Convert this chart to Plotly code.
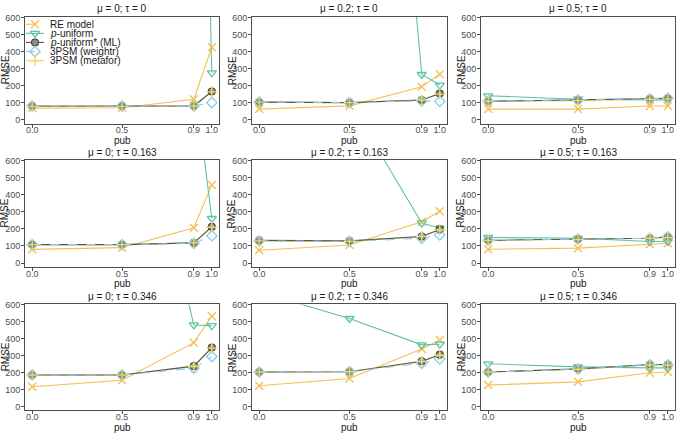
import plotly.graph_objects as go

pub = [0.0, 0.5, 0.9, 1.0]
pub_labels = ["0.0", "0.5", "0.9", "1.0"]
mu_vals = ["0", "0.2", "0.5"]
tau_vals = ["0", "0.163", "0.346"]
y_ticks = [0, 100, 200, 300, 400, 500, 600]

# panels ordered row by row (tau), column by column (mu)
re_model = [
    [68, 70, 120, 425], [62, 81, 193, 267], [62, 62, 80, 80],
    [80, 90, 207, 458], [75, 106, 242, 304], [81, 87, 110, 116],
    [116, 155, 377, 534], [122, 165, 339, 393], [126, 145, 199, 203],
]
p_uniform = [
    [4800, 4800, 4800, 275], [5000, 5000, 265, 203], [140, 120, 116, 116],
    [3000, 3000, 1100, 261], [3000, 945, 235, 205], [150, 145, 126, 126],
    [4000, 2250, 482, 478], [677, 520, 364, 368], [252, 234, 228, 228],
]
p_uniform_star = [
    [80, 80, 80, 165], [103, 100, 115, 153], [108, 115, 122, 125],
    [108, 108, 118, 213], [133, 130, 155, 197], [133, 140, 145, 153],
    [186, 186, 238, 348], [203, 205, 267, 306], [203, 222, 248, 248],
]
psm_weightr = [
    [80, 80, 80, 100], [103, 100, 110, 108], [108, 115, 122, 125],
    [108, 108, 115, 160], [130, 127, 145, 165], [133, 140, 145, 153],
    [186, 186, 225, 295], [203, 205, 255, 281], [203, 220, 245, 245],
]
psm_metafor = [
    [78, 78, 80, 163], [103, 100, 115, 150], [108, 112, 120, 122],
    [108, 108, 118, 210], [130, 127, 155, 195], [133, 138, 145, 150],
    [186, 186, 236, 345], [203, 205, 265, 303], [203, 220, 245, 245],
]

W, H = 676, 433
col_px = [(25, 219), (252, 447), (481, 675)]
row_px = [(13, 121), (158, 266), (304, 411)]
TXT = "#1a1a1a"

methods = [
    dict(name="RE model", data=re_model, color="#F4BF55", dash="solid", ldash="dash",
         marker=dict(symbol="x-thin-open", size=8, color="#F4BF55",
                     line=dict(width=1.4, color="#F4BF55"))),
    dict(name="<i>p</i>-uniform", data=p_uniform, color="#5EC4A1", dash="solid", ldash="solid",
         marker=dict(symbol="triangle-down-open", size=8, color="#5EC4A1",
                     line=dict(width=1.3, color="#5EC4A1"))),
    dict(name="<i>p</i>-uniform* (ML)", data=p_uniform_star, color="#555555", dash="solid", ldash="solid",
         marker=dict(symbol="circle", size=7, color="#8A8A8A",
                     line=dict(width=1.1, color="#444444"))),
    dict(name="3PSM (weightr)", data=psm_weightr, color="#8CCAF0", dash="dash", ldash="dash",
         marker=dict(symbol="diamond-open", size=8, color="#8CCAF0",
                     line=dict(width=1.3, color="#8CCAF0"))),
    dict(name="3PSM (metafor)", data=psm_metafor, color="#F0DA55", dash="solid", ldash="solid",
         marker=dict(symbol="cross-thin-open", size=8, color="#F0DA55",
                     line=dict(width=1.4, color="#F0DA55"))),
]
line_order = [0, 1, 4, 2, 3]

fig = go.Figure()
layout = dict(width=W, height=H, margin=dict(l=0, r=0, t=0, b=0),
              paper_bgcolor="white", plot_bgcolor="rgba(0,0,0,0)", showlegend=False,
              font=dict(family="Liberation Sans, Arial, sans-serif", color="#333333"))
annotations = []

for r in range(3):
    for c in range(3):
        k = r * 3 + c
        idx = "" if k == 0 else str(k + 1)
        x0, x1 = col_px[c]
        y0, y1 = row_px[r]
        common = dict(showline=True, mirror=True, linecolor="#4D4D4D", linewidth=1,
                      showgrid=False, zeroline=False, ticks="outside", ticklen=3,
                      tickcolor="#4D4D4D", tickfont=dict(size=9, color="#4D4D4D"))
        layout["xaxis" + idx] = dict(domain=[x0 / W, x1 / W], range=[-0.04, 1.04],
                                     tickvals=pub, ticktext=pub_labels,
                                     ticklabelstandoff=-5,
                                     anchor="y" + idx, **common)
        layout["yaxis" + idx] = dict(domain=[1 - y1 / H, 1 - y0 / H], range=[-23, 603],
                                     tickvals=y_ticks, anchor="x" + idx,
                                     ticklabelstandoff=-1, **common)
        for j in line_order:
            m = methods[j]
            fig.add_trace(go.Scatter(
                x=pub, y=m["data"][k], mode="lines", name=m["name"],
                line=dict(color=m["color"], width=1.1, dash=m["dash"]),
                showlegend=False, xaxis="x" + idx, yaxis="y" + idx))
        for m in methods:
            fig.add_trace(go.Scatter(
                x=pub, y=m["data"][k], mode="markers", name=m["name"],
                marker=m["marker"], showlegend=False, cliponaxis=True,
                xaxis="x" + idx, yaxis="y" + idx))
        cx = (x0 + x1) / 2 / W
        annotations.append(dict(text=f"μ = {mu_vals[c]}; τ = {tau_vals[r]}", x=cx,
                                y=1 - (y0 - 8) / H, xref="paper", yref="paper",
                                showarrow=False, font=dict(size=10, color=TXT),
                                xanchor="center", yanchor="middle"))
        annotations.append(dict(text="pub", x=cx, y=1 - (y1 + 17) / H, xref="paper",
                                yref="paper", showarrow=False,
                                font=dict(size=10, color=TXT),
                                xanchor="center", yanchor="middle"))
        annotations.append(dict(text="RMSE", x=(x0 - 20) / W, y=1 - (y0 + y1) / 2 / H,
                                xref="paper", yref="paper", showarrow=False, textangle=-90,
                                font=dict(size=10, color=TXT),
                                xanchor="center", yanchor="middle"))

# manual compact legend in the first panel (pixel-space overlay axis)
layout["xaxis10"] = dict(domain=[0, 1], range=[0, W], visible=False, fixedrange=True,
                         anchor="y10")
layout["yaxis10"] = dict(domain=[0, 1], range=[H, 0], visible=False, fixedrange=True,
                         anchor="x10")
leg_x0, leg_x1, leg_top, leg_step = 26, 44, 20.5, 9.2
for i, m in enumerate(methods):
    ly = leg_top + i * leg_step
    fig.add_trace(go.Scatter(
        x=[leg_x0, leg_x1], y=[ly, ly], mode="lines",
        line=dict(color=m["color"], width=1.1, dash=m["ldash"]),
        hoverinfo="skip", showlegend=False, xaxis="x10", yaxis="y10"))
    fig.add_trace(go.Scatter(
        x=[(leg_x0 + leg_x1) / 2], y=[ly], mode="markers", marker=m["marker"],
        hoverinfo="skip", showlegend=False, xaxis="x10", yaxis="y10"))
    annotations.append(dict(text=m["name"], x=48 / W, y=1 - ly / H, xref="paper",
                            yref="paper", showarrow=False, xanchor="left",
                            yanchor="middle", font=dict(size=10, color=TXT)))

layout["annotations"] = annotations
fig.update_layout(**layout)
fig.write_html("out.html")
